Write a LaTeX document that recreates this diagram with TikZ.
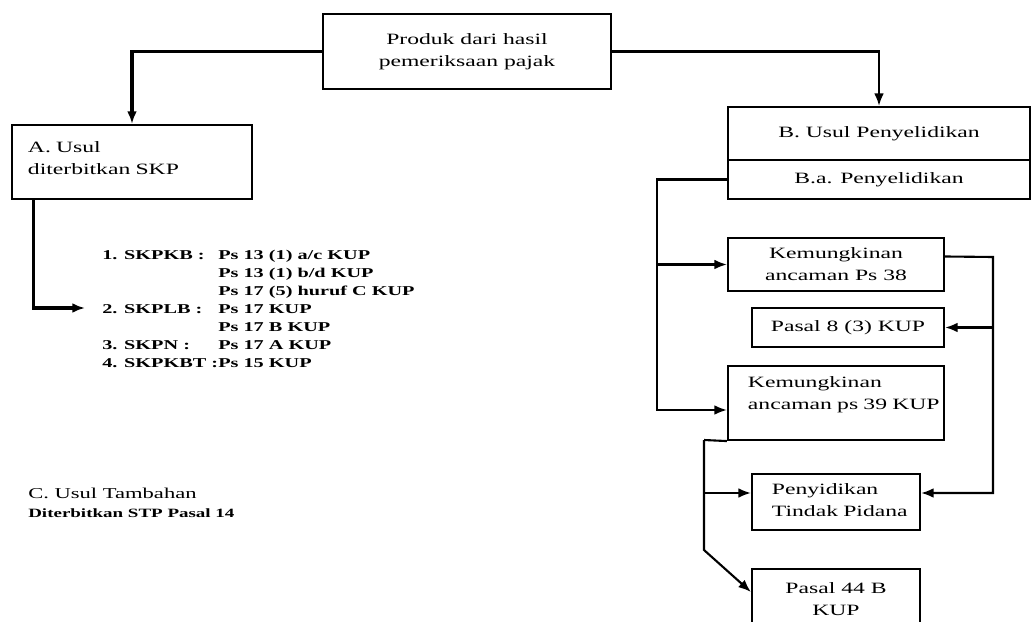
\documentclass[tikz,border=0pt]{standalone}
\usepackage{fontspec}
\setmainfont{Liberation Serif}[FakeStretch=1.5]
\usetikzlibrary{arrows.meta, positioning, calc}

\begin{document}
\begin{tikzpicture}[x=0.025cm, y=-0.025cm,
            box/.style={draw, line width=1.5pt, inner sep=0pt, align=center, font=\fontsize{11.2}{15.6}\selectfont},
            link/.style={line width=1.5pt, -{Latex[length=9pt,width=7pt]}},
            wire/.style={line width=1.5pt},
            txt/.style={inner sep=0pt, anchor=base west}
        ]
        \useasboundingbox (0,0) rectangle (1032,622);

        % Top box
        \node[box, minimum width=7.2cm, minimum height=1.875cm] (prod) at (467,51.5) {Produk dari hasil\\pemeriksaan pajak};

        % Left branch
        \node[box, minimum width=6cm, minimum height=1.85cm, align=left, text width=5.2cm, text depth=21.8pt] (usulA) at (132,162) {A. Usul\\diterbitkan SKP};
        \node[txt, font=\bfseries\fontsize{9.6}{12.8}\selectfont] (skp) at (102,260) {%
            \begin{tabular}[t]{@{}l@{}l@{}}
            \makebox[2.9cm][l]{1. SKPKB :} & Ps 13 (1) a/c KUP\\
                                           & Ps 13 (1) b/d KUP\\
                                           & Ps 17 (5) huruf C KUP\\
            \makebox[2.9cm][l]{2. SKPLB :} & Ps 17 KUP\\
                                           & Ps 17 B KUP\\
            \makebox[2.9cm][l]{3. SKPN :}  & Ps 17 A KUP\\
            \makebox[2.9cm][l]{4. SKPKBT :}& Ps 15 KUP
            \end{tabular}};
        \coordinate (skpIn) at (85,308);

        \node[txt, font=\fontsize{10.7}{13}\selectfont] (usulC) at (28,498) {C. Usul Tambahan};
        \node[txt, font=\bfseries\fontsize{9}{10}\selectfont] (stp) at (28,517) {Diterbitkan STP Pasal 14};

        % Right branch
        \node[box, minimum width=7.55cm, minimum height=1.325cm] (usulB) at (879,133.5) {B. Usul Penyelidikan};
        \node[box, minimum width=7.55cm, minimum height=0.975cm] (ba) at (879,179.5) {B.a. Penyelidikan};
        \node[box, minimum width=5.4cm, minimum height=1.325cm] (kem38) at (836,264.5) {Kemungkinan\\ancaman Ps 38};
        \node[box, minimum width=4.8cm, minimum height=0.975cm] (pasal8) at (848,327.5) {Pasal 8 (3) KUP};
        \node[box, minimum width=5.4cm, minimum height=1.85cm, align=left, text width=4.4cm, text depth=30pt] (kem39) at (836,403) {\mbox{Kemungkinan}\\\mbox{ancaman ps 39 KUP}};
        \node[box, minimum width=4.2cm, minimum height=1.4cm, align=left, text width=3.2cm, text depth=17.8pt] (pidana) at (836,502) {\mbox{Penyidikan}\\\mbox{Tindak Pidana}};
        \node[box, minimum width=4.2cm, minimum height=1.525cm] (pasal44) at (836,599.5) {Pasal 44 B\\KUP};

        \coordinate (trunkB) at (657,179.5);
        \coordinate (in39) at ($(kem39.west)+(0,7)$);
        \coordinate (out38) at ($(kem38.east)+(0,-8)$);
        \coordinate (railR) at (993,257);
        \coordinate (inPTr) at ($(pidana.east)+(0,-9)$);
        \coordinate (inPTl) at ($(pidana.west)+(0,-9)$);
        \coordinate (railL) at (704,440);
        \coordinate (bend) at (704,550);
        \coordinate (in44) at ($(pasal44.west)+(0,-7.5)$);

        % Connectors
        \draw[link, line width=2.6pt] (prod.west) -| (usulA.north);
        \draw[link] (prod.east) -| (usulB.north);
        \draw[link, line width=2.2pt] ($(usulA.south west)+(23,0)$) |- (skpIn);

        \draw[link] (ba.west) -- (trunkB) |- (in39);
        \draw[link] (trunkB |- kem38.west) -- (kem38.west);
        \draw[link] (out38) -- (railR) |- (inPTr);
        \draw[link] (railR |- pasal8.east) -- (pasal8.east);
        \draw[wire] (kem39.south west) -- (railL);
        \draw[link] (railL) -- (bend) -- (in44);
        \draw[link] (railL |- inPTl) -- (inPTl);

        \end{tikzpicture}
\end{document}
